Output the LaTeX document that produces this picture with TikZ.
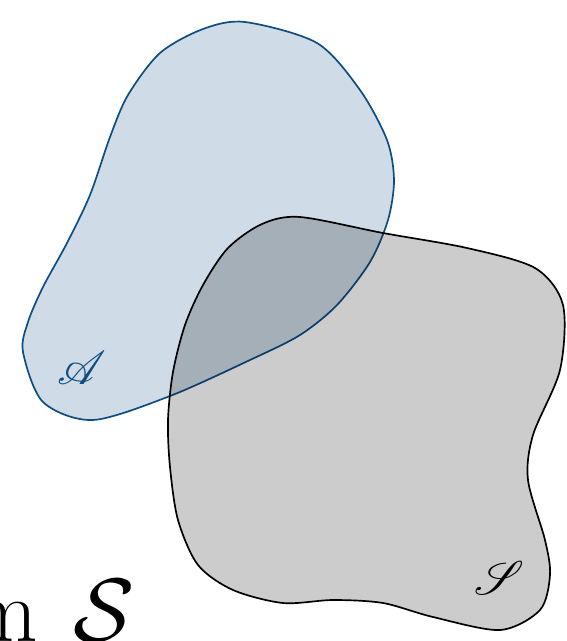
\RequirePackage{fix-cm}
\documentclass[tikz,border=0pt]{standalone}
\usepackage{mathrsfs}
\usetikzlibrary{positioning}
\definecolor{cjazul}{HTML}{0F4C81}
\definecolor{cjpreto}{HTML}{000000}
\tikzset{
  cjconjA/.style={draw=cjazul, fill=cjazul, fill opacity=0.2, line width=1.2pt},
  cjconjS/.style={draw=cjpreto, fill=cjpreto, fill opacity=0.2, line width=1.2pt},
  cjrotulo/.style={font=\fontsize{30}{36}\selectfont, inner sep=0pt},
}
\newcommand{\cjgrande}[1]{\scalebox{1.35}{$\mathscr{#1}$}}
\begin{document}
\begin{tikzpicture}[x=0.025cm, y=-0.025cm]
  \useasboundingbox (0,0) rectangle (567,641);
  % conjunto A
  \draw[cjconjA] plot[smooth cycle, tension=0.5] coordinates {
    (245,22) (317,43) (360,90) (387,140) (394,180) (388,220) (370,262)
    (337,305) (300,335) (250,360) (170,396) (93,420) (43,402) (23,352)
    (28,322) (43,287) (67,243) (90,195) (110,137) (128,95) (160,53) (203,29)};
  % conjunto S
  \draw[cjconjS] plot[smooth cycle, tension=0.5] coordinates {
    (300,217) (383,233) (467,248) (535,268) (563,305) (560,370) (533,435)
    (528,480) (545,540) (550,575) (540,610) (500,630) (433,617) (383,603)
    (333,600) (283,603) (233,590) (198,565) (178,520) (170,467) (168,420)
    (173,372) (185,325) (203,285) (228,248) (262,224)};
  \node[cjrotulo, text=cjazul] (rotA) at (82,368) {\cjgrande{A}};
  \node[cjrotulo] (rotS) at (500,578) {\cjgrande{S}};
  \node[font=\fontsize{64}{76}\selectfont, inner sep=0pt, anchor=base west] (corte) at (-32,641) {m\hspace{0.22cm} $\mathcal{S}$};
\end{tikzpicture}
\end{document}
